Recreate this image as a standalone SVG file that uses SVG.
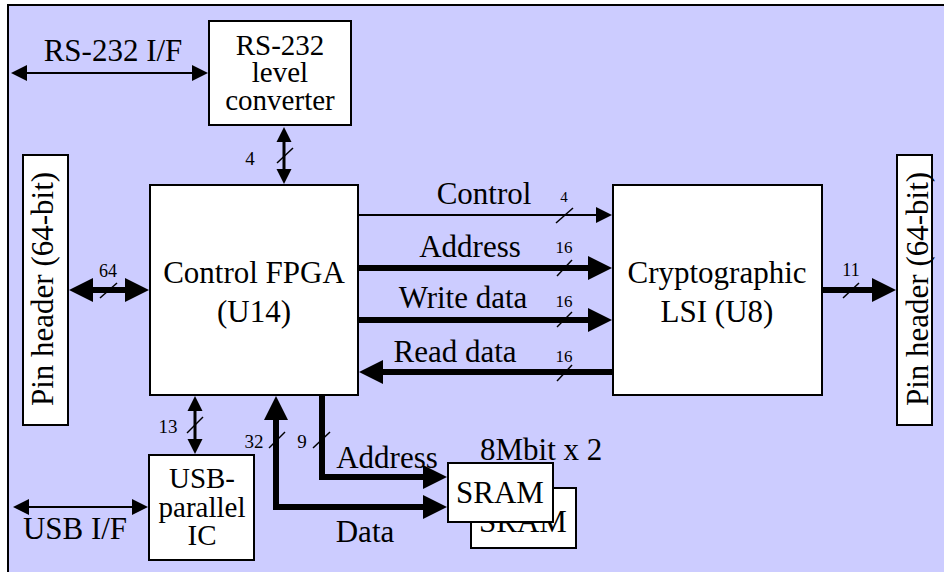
<svg xmlns="http://www.w3.org/2000/svg" width="944" height="572" viewBox="0 0 944 572" font-family="'Liberation Serif', 'Times New Roman', serif">
<style>
text{font-family:"Liberation Serif","Times New Roman",serif;fill:#000}
.t{font-size:31px;text-anchor:middle}
.m{font-size:29px;text-anchor:middle}
.s{font-size:19px;text-anchor:middle}
.box{fill:#fff;stroke:#000;stroke-width:2}
.thin{stroke:#000;stroke-width:2;fill:none}
.med{stroke:#000;stroke-width:3;fill:none}
.thick{stroke:#000;stroke-width:6;fill:none;stroke-linejoin:miter}
.sl{stroke:#000;stroke-width:1.5}
</style>
<defs>
<marker id="big" markerUnits="userSpaceOnUse" markerWidth="25" markerHeight="25" refX="1" refY="12" orient="auto-start-reverse" overflow="visible"><path d="M0,0 L24,12 L0,24 z" fill="#000"/></marker>
<marker id="thn" markerUnits="userSpaceOnUse" markerWidth="17" markerHeight="17" refX="1" refY="8" orient="auto-start-reverse" overflow="visible"><path d="M0,0 L16,8 L0,16 z" fill="#000"/></marker>
<marker id="med" markerUnits="userSpaceOnUse" markerWidth="16" markerHeight="16" refX="1" refY="7.5" orient="auto-start-reverse" overflow="visible"><path d="M0,0 L15,7.5 L0,15 z" fill="#000"/></marker>
</defs>
<rect x="0" y="0" width="944" height="572" fill="#fff"/>
<rect x="8" y="5" width="1000" height="600" fill="#ccccff" stroke="#000" stroke-width="2"/>

<g id="connectors">
<line class="thin" x1="26" y1="73" x2="193" y2="73" marker-start="url(#thn)" marker-end="url(#thn)"/>
<line class="med" x1="284" y1="141" x2="284" y2="170" marker-start="url(#med)" marker-end="url(#med)"/>
<line class="thick" x1="92" y1="290" x2="126" y2="290" marker-start="url(#big)" marker-end="url(#big)"/>
<line class="thin" x1="358" y1="215" x2="597" y2="215" marker-end="url(#thn)"/>
<line class="thick" x1="358" y1="268" x2="589" y2="268" marker-end="url(#big)"/>
<line class="thick" x1="358" y1="320" x2="589" y2="320" marker-end="url(#big)"/>
<line class="thick" x1="613" y1="372" x2="382" y2="372" marker-end="url(#big)"/>
<line class="thick" x1="822" y1="290" x2="873" y2="290" marker-end="url(#big)"/>
<line class="med" x1="195" y1="410" x2="195" y2="440" marker-start="url(#med)" marker-end="url(#med)"/>
<line class="thin" x1="28" y1="507" x2="133" y2="507" marker-start="url(#thn)" marker-end="url(#thn)"/>
<path class="thick" d="M322,395 V477 H424" marker-end="url(#big)"/>
<path class="thick" d="M276,419 V507 H424" marker-start="url(#big)" marker-end="url(#big)"/>
<line class="sl" x1="277" y1="163" x2="293" y2="148"/>
<line class="sl" x1="100" y1="298" x2="117" y2="283"/>
<line class="sl" x1="556" y1="223" x2="573" y2="208"/>
<line class="sl" x1="557" y1="276" x2="572" y2="260"/>
<line class="sl" x1="557" y1="327" x2="572" y2="312"/>
<line class="sl" x1="557" y1="381" x2="572" y2="365"/>
<line class="sl" x1="843" y1="298" x2="859" y2="283"/>
<line class="sl" x1="187" y1="433" x2="203" y2="417"/>
<line class="sl" x1="269" y1="448" x2="285" y2="432"/>
<line class="sl" x1="313" y1="448" x2="330" y2="432"/>
<text class="t" x="113" y="61">RS-232 I/F</text>
<text class="s" x="250" y="165">4</text>
<text class="s" x="108" y="277" style="font-size:18px">64</text>
<text class="t" x="484" y="204">Control</text>
<text class="s" x="564" y="202" style="font-size:15px">4</text>
<text class="t" x="470" y="257">Address</text>
<text class="s" x="564" y="253" style="font-size:17px">16</text>
<text class="t" x="463" y="308">Write data</text>
<text class="s" x="564" y="307" style="font-size:17px">16</text>
<text class="t" x="455" y="362">Read data</text>
<text class="s" x="564" y="362" style="font-size:17px">16</text>
<text class="s" x="851" y="276" style="font-size:18px">11</text>
<text class="s" x="168" y="433">13</text>
<text class="s" x="254" y="448">32</text>
<text class="s" x="302" y="448">9</text>
<text class="t" x="387" y="468">Address</text>
<text class="t" x="365" y="542">Data</text>
<text class="t" x="75" y="539">USB I/F</text>
<text class="t" x="480" y="460" style="text-anchor:start">8Mbit x 2</text>
</g>

<g id="rs232">
<rect class="box" x="209" y="21" width="142" height="104"/>
<text class="m" x="280" y="55">RS-232</text>
<text class="m" x="280" y="82">level</text>
<text class="m" x="280" y="110">converter</text>
</g>
<g id="pin-left">
<rect class="box" x="23" y="155" width="45" height="270"/>
<text class="t" transform="translate(53,289) rotate(-90)">Pin header (64-bit)</text>
</g>
<g id="fpga">
<rect class="box" x="150" y="185" width="208" height="210"/>
<text class="t" x="254" y="283">Control FPGA</text>
<text class="t" x="254" y="322">(U14)</text>
</g>
<g id="crypto">
<rect class="box" x="613" y="185" width="209" height="210"/>
<text class="t" x="717" y="283">Cryptographic</text>
<text class="t" x="717" y="322">LSI (U8)</text>
</g>
<g id="pin-right">
<rect class="box" x="897" y="155" width="35" height="270"/>
<text class="t" transform="translate(928,289) rotate(-90)">Pin header (64-bit)</text>
</g>
<g id="usb">
<rect class="box" x="149" y="455" width="105" height="105"/>
<text class="m" x="202" y="488">USB-</text>
<text class="m" x="202" y="517">parallel</text>
<text class="m" x="202" y="545">IC</text>
</g>
<g id="sram2">
<rect class="box" x="471" y="488" width="105" height="60"/>
<text class="t" x="523" y="532">SRAM</text>
</g>
<g id="sram1">
<rect class="box" x="448" y="463" width="105" height="59"/>
<text class="t" x="500" y="503">SRAM</text>
</g>
</svg>
